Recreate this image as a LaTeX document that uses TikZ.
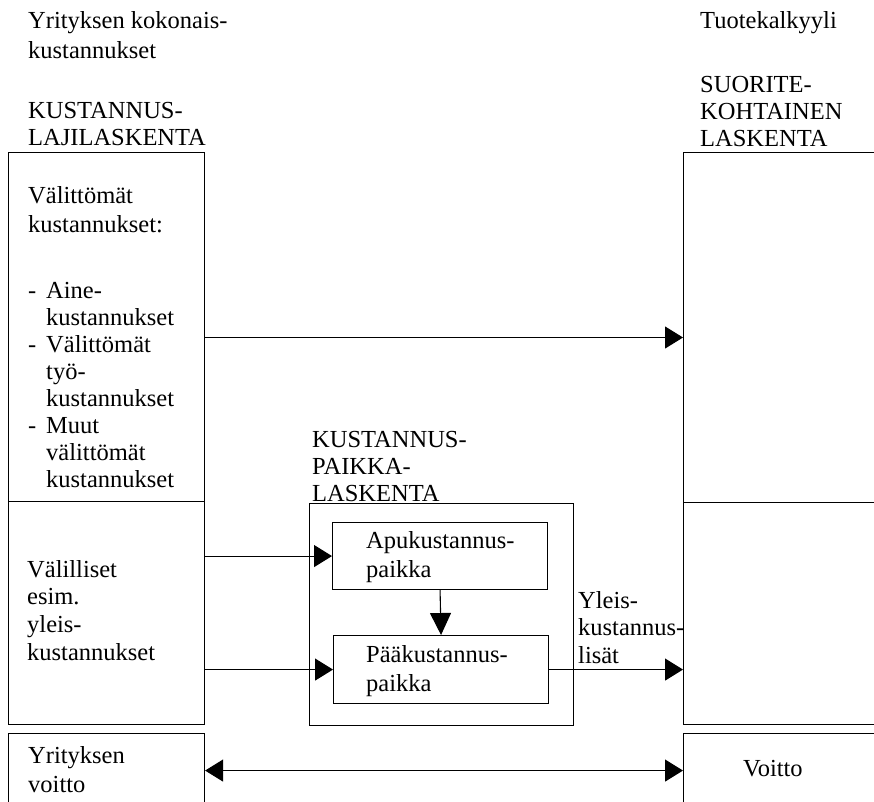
\documentclass[tikz,border=0pt]{standalone}
\usepackage{fontspec}
\setmainfont{Liberation Serif}
\usetikzlibrary{arrows.meta}
\begin{document}
\begin{tikzpicture}[x=1pt,y=-1pt,
  box/.style={draw, line width=1.1pt, rectangle, inner sep=0pt, anchor=north west},
  txt/.style={inner sep=0pt, anchor=north west, align=left, font=\fontsize{24.5}{#1}\selectfont},
  txt/.default=27,
  one/.style={inner sep=0pt, anchor=base west, font=\fontsize{24.5}{27}\selectfont},
  arr/.style={line width=1.1pt, -{Triangle[length=18pt,width=22pt]}},
  varr/.style={line width=1.1pt, -{Triangle[length=22pt,width=21pt]}},
  darr/.style={line width=1.1pt, {Triangle[length=18pt,width=22pt]}-{Triangle[length=18pt,width=22pt]}}]
\useasboundingbox (0,0) rectangle (874,801);
\fill[white] (0,0) rectangle (874,801);
% boxes
\node[box, minimum width=196pt, minimum height=349pt] (ltop) at (8,152) {};
\node[box, minimum width=196pt, minimum height=223pt] (lbot) at (8,501) {};
\node[box, minimum width=196pt, minimum height=74pt] (lvoit) at (8,733) {};
\node[box, minimum width=200pt, minimum height=350pt] (rtop) at (683,152) {};
\node[box, minimum width=200pt, minimum height=222pt] (rbot) at (683,502) {};
\node[box, minimum width=200pt, minimum height=74pt] (rvoit) at (683,733) {};
\node[box, minimum width=264pt, minimum height=222pt] (kp) at (309,503) {};
\node[box, minimum width=215pt, minimum height=67pt] (apu) at (332,522) {};
\node[box, minimum width=215pt, minimum height=68pt] (paa) at (333,635) {};
% texts
\node[txt=30] (h1) at (28,7) {\strut Yrityksen kokonais-\\kustannukset};
\node[txt=27] (h2) at (28,99.1) {\strut KUSTANNUS-\\LAJILASKENTA};
\node[one] (h3) at (700,28) {Tuotekalkyyli};
\node[txt=27] (h4) at (700,73.1) {\strut SUORITE-\\KOHTAINEN\\LASKENTA};
\node[txt=29] (l1) at (28,182.7) {\strut Välittömät\\kustannukset:};
\node[txt=27] (l2) at (28,279.1) {\strut\makebox[18pt][l]{-}Aine-\\\hspace*{18pt}kustannukset\\
  \makebox[18pt][l]{-}Välittömät\\\hspace*{18pt}työ-\\\hspace*{18pt}kustannukset\\
  \makebox[18pt][l]{-}Muut\\\hspace*{18pt}välittömät\\\hspace*{18pt}kustannukset};
\node[txt=27.7] (l3) at (27,557.6) {\strut Välilliset\\esim.\\yleis-\\kustannukset};
\node[txt=29] (l4) at (28,742.7) {\strut Yrityksen\\voitto};
\node[txt=27] (kpt) at (312,428.1) {\strut KUSTANNUS-\\PAIKKA-\\LASKENTA};
\node[txt=29] (aput) at (366,527.7) {\strut Apukustannus-\\paikka};
\node[txt=29] (paat) at (366,641.7) {\strut Pääkustannus-\\paikka};
\node[txt=27.5] (ylt) at (578,588.75) {\strut Yleis-\\kustannus-\\lisät};
\node[one] (voit) at (743,776) {Voitto};
% connectors
\coordinate (ya) at (0,337.5);
\draw[arr] (ltop.east |- ya) -- (rtop.west |- ya);
\draw[arr] (lbot.east |- apu.west) -- (apu.west);
\draw[arr] (lbot.east |- paa.west) -- (paa.west);
\draw[varr] (apu.south) -- (paa.north);
\draw[arr] (paa.east) -- (rbot.west |- paa.east);
\draw[darr] (lvoit.east) -- (rvoit.west);
\end{tikzpicture}
\end{document}
